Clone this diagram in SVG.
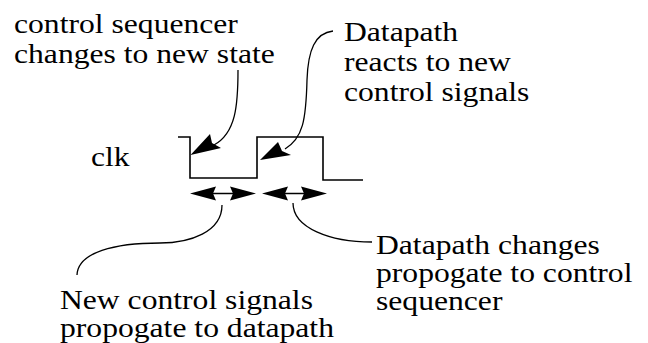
<svg xmlns="http://www.w3.org/2000/svg" width="648" height="343" viewBox="0 0 648 343">
<style>
text{font-family:'Liberation Serif','Times New Roman',Tinos,Times,'DejaVu Serif',serif;font-size:28px;fill:#000}
.w{fill:none;stroke:#000;stroke-width:1.6}
.c{fill:none;stroke:#000;stroke-width:1.3}
.h{fill:#000;stroke:none}
</style>
<rect width="648" height="343" fill="#fff"/>
<g id="label-sequencer" transform="translate(14,0) scale(1.13,1)">
<text x="0" y="33">control sequencer</text>
<text x="0" y="63">changes to new state</text>
</g>
<g id="label-datapath-reacts" transform="translate(344,0) scale(1.13,1)">
<text x="0" y="41">Datapath</text>
<text x="0" y="71">reacts to new</text>
<text x="0" y="101">control signals</text>
</g>
<g id="label-clk" transform="translate(91,0) scale(1.13,1)">
<text x="0" y="166">clk</text>
</g>
<g id="clock">
<path class="w" d="M178,137 H190 V178 H257 V137 H323 V180 H363"/>
</g>
<g id="label-new-control" transform="translate(60,0) scale(1.13,1)">
<text x="0" y="309">New control signals</text>
<text x="0" y="337">propogate to datapath</text>
</g>
<g id="label-datapath-changes" transform="translate(376,0) scale(1.13,1)">
<text x="0" y="254">Datapath changes</text>
<text x="0" y="282">propogate to control</text>
<text x="0" y="310">sequencer</text>
</g>
<g id="connectors">
<path class="c" d="M238,70 C238,105 236,133 214,145"/>
<polygon class="h" points="190.5,155 210,134 212,143 221,148"/>
<path class="c" d="M333,31 C315,33 308,50 307,80 C306,120 303,138 285,149"/>
<polygon class="h" points="260,160 278,142 282,151 291,155"/>
<line class="c" x1="205" y1="193.5" x2="241" y2="193.5"/>
<polygon class="h" points="190,193.5 216,186.5 213,193.5 216,200.5"/>
<polygon class="h" points="256,193.5 230,186.5 233,193.5 230,200.5"/>
<line class="c" x1="277" y1="193.5" x2="312" y2="193.5"/>
<polygon class="h" points="262,193.5 288,186.5 285,193.5 288,200.5"/>
<polygon class="h" points="327,193.5 301,186.5 304,193.5 301,200.5"/>
<path class="c" d="M222,205 C222,232 190,243 160,243 C115,243 78,252 77,275"/>
<path class="c" d="M293,203 C293,228 330,242 372,242"/>
</g>
</svg>
